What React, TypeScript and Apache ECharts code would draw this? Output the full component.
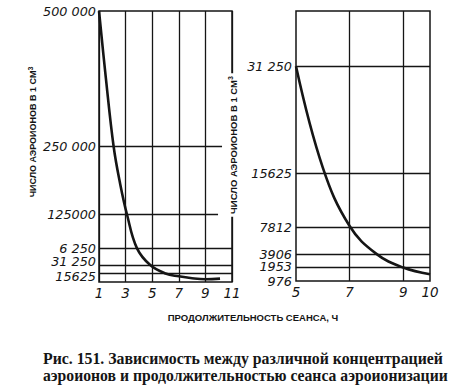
import React, { useEffect, useRef } from "react";
import * as echarts from "echarts";

// Left panel: session duration (h) vs number of air ions in 1 cm³
const leftHours = [1, 1.5, 2.1, 2.6, 3.1, 3.85, 4.85, 6.0, 7.0, 8.0, 9.0, 10.1];
const leftIons = [500000, 380000, 250000, 180000, 125000, 62500, 31250, 15625, 10500, 7000, 5200, 6200];
// tick labels split over several axes of the same grid so neighbours never collide
const leftTicksA = [500000, 125000, 31250];
const leftTicksB = [250000, 62500, 15625];
const leftTickValues = [15625, 31250, 62500, 125000, 250000, 500000];
const leftTickLabels = ["15625", "31 250", "6 250", "125000", "250 000", "500 000"];
const leftGridValues = [62500, 31250, 15625];
const leftShortLines = [
  { value: 250000, end: 10.25 },
  { value: 125000, end: 9.95 },
];

// Right panel
const rightHours = [5, 6, 7, 8, 9, 10];
const rightIons = [31250, 16500, 8000, 3950, 1960, 980];
const rightTicksA = [31250, 7812, 976];
const rightTicksB = [15625, 1953];
const rightTicksC = [3906];
const rightTickValues = [976, 1953, 3906, 7812, 15625, 31250];
const rightTickLabels = ["976", "1953", "3906", "7812", "15625", "31 250"];
const rightGridValues = [31250, 15625, 7812, 3906, 1953];
const rightXLabels = [5, 7, 9, 10];
const rightXGrid = [7, 9];

const yName = "ЧИСЛО АЭРОИОНОВ В 1 СМ";
const xName = "ПРОДОЛЖИТЕЛЬНОСТЬ СЕАНСА, Ч";
const caption1 = "Рис. 151. Зависимость между различной концентрацией";
const caption2 = "аэроионов и продолжительностью сеанса аэроионизации";

// small nudges of crowded labels (as in the printed figure)
const leftNudge: Record<number, string> = { 31250: "up", 15625: "dn" };
const rightNudge: Record<number, string> = { 1953: "up1", 976: "low" };

const INK = "#151515";
const tickFont = {
  fontFamily: "DejaVu Sans",
  fontStyle: "italic" as const,
  fontSize: 12.8,
  lineHeight: 11,
  color: INK,
};

export default function App() {
  const ref = useRef<HTMLDivElement>(null);
  useEffect(() => {
    if (!ref.current) return;
    const chart = echarts.init(ref.current, null, { renderer: "svg" });
    const gridLine = { color: INK, width: 1.3, type: "solid" as const };
    const markBase = {
      silent: true,
      symbol: ["none", "none"],
      label: { show: false },
      lineStyle: gridLine,
      emphasis: { disabled: true },
    };
    const yAxisOf = (
      gridIndex: number,
      max: number,
      ticks: number[],
      values: number[],
      labels: string[],
      margin: number,
      nudge: Record<number, string>
    ) => ({
      type: "value",
      gridIndex,
      min: 0,
      max,
      position: "left",
      axisLine: { show: false },
      axisTick: { show: false, customValues: ticks },
      splitLine: { show: false },
      axisLabel: {
        ...tickFont,
        margin,
        hideOverlap: false,
        showMinLabel: true,
        showMaxLabel: true,
        customValues: ticks,
        formatter: (v: number) => {
          const i = values.indexOf(v);
          if (i < 0) return "";
          const key = nudge[v];
          return key ? "{" + key + "|" + labels[i] + "}" : labels[i];
        },
        rich: {
          up: { ...tickFont, padding: [0, 0, 7, 0] },
          up1: { ...tickFont, padding: [0, 0, 2, 0] },
          dn: { ...tickFont, padding: [5, 0, 0, 0] },
          low: { ...tickFont, padding: [14, 0, 0, 0] },
        },
      },
    });
    const yNameText = (x: number, y: number, bg: boolean, size: number) => ({
      type: "text",
      x,
      y,
      rotation: Math.PI / 2,
      z: 100,
      style: {
        text: yName + "{sup|3}",
        fontFamily: "Liberation Sans",
        fontWeight: "bold",
        fontSize: size,
        lineHeight: 13,
        fill: INK,
        align: "center",
        verticalAlign: "middle",
        backgroundColor: bg ? "#fff" : undefined,
        padding: bg ? [0, 3] : 0,
        rich: {
          sup: {
            fontFamily: "Liberation Sans",
            fontWeight: "bold",
            fontSize: 7,
            verticalAlign: "top",
            lineHeight: 7,
            fill: INK,
          },
        },
      },
    });
    chart.setOption({
      animation: false,
      backgroundColor: "#fff",
      grid: [
        { left: 99, top: 11, width: 133, height: 271, show: true, borderColor: INK, borderWidth: 1.5 },
        { left: 296, top: 11, width: 134, height: 270, show: true, borderColor: INK, borderWidth: 1.5 },
      ],
      xAxis: [
        {
          type: "value",
          gridIndex: 0,
          min: 1,
          max: 11,
          interval: 2,
          axisLine: { show: false },
          axisTick: { show: false },
          splitLine: { show: true, lineStyle: gridLine },
          axisLabel: { ...tickFont, fontSize: 13.5, margin: 5, showMinLabel: true, showMaxLabel: true, hideOverlap: false },
        },
        {
          type: "value",
          gridIndex: 1,
          min: 5,
          max: 10,
          axisLine: { show: false },
          axisTick: { show: false, customValues: rightXLabels },
          splitLine: { show: false },
          axisLabel: { ...tickFont, fontSize: 13.5, margin: 5, customValues: rightXLabels, hideOverlap: false },
        },
      ],
      yAxis: [
        yAxisOf(0, 500000, leftTicksA, leftTickValues, leftTickLabels, 3, leftNudge),
        yAxisOf(0, 500000, leftTicksB, leftTickValues, leftTickLabels, 3, leftNudge),
        yAxisOf(1, 39300, rightTicksA, rightTickValues, rightTickLabels, 4, rightNudge),
        yAxisOf(1, 39300, rightTicksB, rightTickValues, rightTickLabels, 4, rightNudge),
        yAxisOf(1, 39300, rightTicksC, rightTickValues, rightTickLabels, 4, rightNudge),
      ],
      series: [
        {
          type: "line",
          xAxisIndex: 0,
          yAxisIndex: 0,
          data: leftHours.map((h, i) => [h, leftIons[i]]),
          showSymbol: false,
          symbol: "none",
          smooth: 0.4,
          lineStyle: { color: INK, width: 2.6 },
          z: 5,
          markLine: {
            ...markBase,
            data: [
              ...leftGridValues.map((v) => ({ yAxis: v })),
              ...leftShortLines.map((s) => [{ coord: [1, s.value] }, { coord: [s.end, s.value] }]),
            ],
          },
        },
        {
          type: "line",
          xAxisIndex: 1,
          yAxisIndex: 2,
          data: rightHours.map((h, i) => [h, rightIons[i]]),
          showSymbol: false,
          symbol: "none",
          smooth: 0.4,
          lineStyle: { color: INK, width: 2.6 },
          z: 5,
          markLine: {
            ...markBase,
            data: [
              ...rightGridValues.map((v) => ({ yAxis: v })),
              ...rightXGrid.map((v) => ({ xAxis: v })),
            ],
          },
        },
      ],
      graphic: [
        yNameText(33, 132, false, 9),
        yNameText(233, 145, true, 9.5),
        {
          type: "text",
          x: 253,
          y: 317,
          style: {
            text: xName,
            fontFamily: "Liberation Sans",
            fontWeight: "bold",
            fontSize: 9.5,
            fill: INK,
            align: "center",
            verticalAlign: "middle",
          },
        },
        {
          type: "text",
          x: 43,
          y: 358,
          style: {
            text: caption1,
            fontFamily: "Liberation Serif",
            fontWeight: "bold",
            fontSize: 15.8,
            fill: INK,
            align: "left",
            verticalAlign: "middle",
          },
        },
        {
          type: "text",
          x: 43,
          y: 375,
          style: {
            text: caption2,
            fontFamily: "Liberation Serif",
            fontWeight: "bold",
            fontSize: 15.7,
            fill: INK,
            align: "left",
            verticalAlign: "middle",
          },
        },
      ],
    });
    return () => chart.dispose();
  }, []);
  return (
    <div
      ref={ref}
      style={{ position: "fixed", left: 0, top: 0, width: 456, height: 386, background: "#fff" }}
    />
  );
}
